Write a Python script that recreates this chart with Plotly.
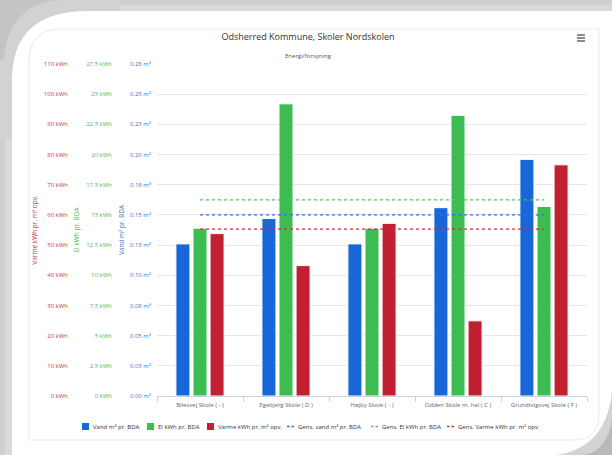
import plotly.graph_objects as go

# ---------------- data ----------------
schools = ["Bilesvej Skole ( - )", "Egebjerg Skole ( D )", "Højby Skole ( - )",
           "Odden Skole m. hal ( C )", "Grundtvigsvej Skole ( F )"]
vand = [0.126, 0.147, 0.126, 0.156, 0.196]      # m³ pr. BDA
el = [13.9, 24.2, 13.9, 23.25, 15.7]           # kWh pr. BDA
varme = [53.8, 43.2, 57.2, 24.9, 76.6]          # kWh pr. m² opv.
gens_vand = 0.150
gens_el = 16.25
gens_varme = 55.3

vand_tickvals = [0, 0.025, 0.05, 0.075, 0.1, 0.125, 0.15, 0.175, 0.2, 0.225, 0.25, 0.275]
vand_ticktext = ["0.00 m³", "0.03 m³", "0.05 m³", "0.08 m³", "0.10 m³", "0.13 m³",
                 "0.15 m³", "0.18 m³", "0.20 m³", "0.23 m³", "0.25 m³", "0.28 m³"]
el_tickvals = [0, 2.5, 5, 7.5, 10, 12.5, 15, 17.5, 20, 22.5, 25, 27.5]
el_ticktext = ["0 kWh", "2.5 kWh", "5 kWh", "7.5 kWh", "10 kWh", "12.5 kWh", "15 kWh",
               "17.5 kWh", "20 kWh", "22.5 kWh", "25 kWh", "27.5 kWh"]
varme_tickvals = [0, 10, 20, 30, 40, 50, 60, 70, 80, 90, 100, 110]
varme_ticktext = ["0 kWh", "10 kWh", "20 kWh", "30 kWh", "40 kWh", "50 kWh", "60 kWh",
                  "70 kWh", "80 kWh", "90 kWh", "100 kWh", "110 kWh"]

series_names = ["Vand m³ pr. BDA", "El kWh pr. BDA", "Varme kWh pr. m² opv.",
                "Gens. vand m³ pr. BDA", "Gens. El kWh pr. BDA", "Gens. Varme kWh pr. m² opv."]

# ---------------- styling ----------------
FIG_W, FIG_H = 612, 455
ML, MR, MT, MB = 20, 25, 64, 59
PW = FIG_W - ML - MR
PH = FIG_H - MT - MB
FONT = "Open Sans"

BLUE = "#1767d8"
GREEN = "#3dbd51"
RED = "#c21f30"
BLUE_T = "#3f72cc"
GREEN_T = "#4cba5a"
RED_T = "#c43a48"
BLUE_L = "#2f6fd6"
GREEN_L = "#56c265"
RED_L = "#c9303d"


def px(x):
    return (x - ML) / PW


def py(y):
    return 1 - (y - MT) / PH


def path(cmds):
    out = []
    for c in cmds:
        if isinstance(c, str):
            out.append(c)
        else:
            out.append(f"{px(c[0]):.5f},{py(c[1]):.5f}")
    return " ".join(out)


fig = go.Figure()

bar_w = 0.163
fig.add_trace(go.Bar(x=schools, y=vand, name=series_names[0], marker_color=BLUE,
                     marker_line=dict(color="white", width=1), width=bar_w, offset=-0.28,
                     yaxis="y"))
fig.add_trace(go.Bar(x=schools, y=el, name=series_names[1], marker_color=GREEN,
                     marker_line=dict(color="white", width=1), width=bar_w, offset=-0.0815,
                     yaxis="y2"))
fig.add_trace(go.Bar(x=schools, y=varme, name=series_names[2], marker_color=RED,
                     marker_line=dict(color="white", width=1), width=bar_w, offset=0.117,
                     yaxis="y3"))

ends = [schools[0], schools[-1]]
fig.add_trace(go.Scatter(x=ends, y=[gens_vand, gens_vand], mode="lines",
                         name=series_names[3],
                         line=dict(color=BLUE_L, width=1.3, dash="dot"), yaxis="y4"))
fig.add_trace(go.Scatter(x=ends, y=[gens_el, gens_el], mode="lines",
                         name=series_names[4],
                         line=dict(color=GREEN_L, width=1.3, dash="dot"), yaxis="y5"))
fig.add_trace(go.Scatter(x=ends, y=[gens_varme, gens_varme], mode="lines",
                         name=series_names[5],
                         line=dict(color=RED_L, width=1.3, dash="dot"), yaxis="y6"))

tickfont = dict(family=FONT, size=6)

fig.update_layout(
    width=FIG_W, height=FIG_H,
    margin=dict(l=ML, r=MR, t=MT, b=MB, autoexpand=False),
    paper_bgcolor="white", plot_bgcolor="rgba(0,0,0,0)",
    barmode="overlay",
    showlegend=False,
    font=dict(family=FONT, color="#333333"),
    title=dict(text="Odsherred Kommune, Skoler Nordskolen", x=308 / FIG_W, xanchor="center",
               y=1 - 37 / FIG_H, yanchor="middle",
               font=dict(family=FONT, size=9, color="#333333")),
    xaxis=dict(domain=[px(157), 1], type="category", showgrid=False, showline=True,
               linecolor="#c8d2e6", linewidth=1, ticks="outside", tickson="boundaries",
               ticklen=5, tickcolor="#c8d2e6", ticklabelstandoff=3,
               tickfont=dict(family=FONT, size=6, color="#666666"),
               range=[-0.5, 4.5]),
    yaxis=dict(range=[0, 0.275], tickvals=vand_tickvals, ticktext=vand_ticktext,
               showgrid=True, gridcolor="#e6e6e6", gridwidth=1, zeroline=False,
               showline=False, tickfont=dict(tickfont, color=BLUE_T),
               title=dict(text="Vand m³ pr. BDA", font=dict(family=FONT, size=6.5, color=BLUE_T),
                          standoff=4),
               ticklabelstandoff=5),
    yaxis2=dict(range=[0, 27.5], tickvals=el_tickvals, ticktext=el_ticktext,
                overlaying="y", anchor="free", position=px(112), side="left",
                showgrid=False, zeroline=False, showline=False,
                tickfont=dict(tickfont, color=GREEN_T),
                title=dict(text="El kWh pr. BDA", font=dict(family=FONT, size=6.5, color=GREEN_T),
                           standoff=4)),
    yaxis3=dict(range=[0, 110], tickvals=varme_tickvals, ticktext=varme_ticktext,
                overlaying="y", anchor="free", position=px(68), side="left",
                showgrid=False, zeroline=False, showline=False,
                tickfont=dict(tickfont, color=RED_T),
                title=dict(text="Varme kWh pr. m² opv.",
                           font=dict(family=FONT, size=6.5, color=RED_T), standoff=4)),
    yaxis4=dict(range=[0, 0.275], overlaying="y", visible=False),
    yaxis5=dict(range=[0, 27.5], overlaying="y", visible=False),
    yaxis6=dict(range=[0, 110], overlaying="y", visible=False),
)

# subtitle
fig.add_annotation(text="Energi/forsyning", x=px(308), y=py(50), xref="paper", yref="paper",
                   showarrow=False, font=dict(family=FONT, size=6, color="#555555"))

shapes = []

# context-menu icon (three bars)
for yy in (35, 38, 41):
    shapes.append(dict(type="line", xref="paper", yref="paper", x0=px(577), x1=px(585),
                       y0=py(yy), y1=py(yy), line=dict(color="#666666", width=1.5)))

# legend (drawn as real text next to symbols)
LEG_Y = 426.5
leg_sym_x = [82, 147, 207, 287, 371, 447]
leg_colors = [BLUE, GREEN, RED, BLUE_L, GREEN_L, RED_L]
for i, (name, sx, col) in enumerate(zip(series_names, leg_sym_x, leg_colors)):
    if i < 3:
        shapes.append(dict(type="rect", xref="paper", yref="paper", x0=px(sx), x1=px(sx + 7),
                           y0=py(LEG_Y + 3.5), y1=py(LEG_Y - 3.5), fillcolor=col,
                           line=dict(width=0)))
    else:
        shapes.append(dict(type="line", xref="paper", yref="paper", x0=px(sx), x1=px(sx + 7),
                           y0=py(LEG_Y), y1=py(LEG_Y),
                           line=dict(color=col, width=1.3, dash="2.5px,2px")))
    fig.add_annotation(text=name, x=px(sx + 9), y=py(LEG_Y), xref="paper", yref="paper",
                       xanchor="left", yanchor="middle", showarrow=False,
                       font=dict(family=FONT, size=6, color="#333333"))


# card background: surrounding grey areas and inner border
def rect(x0, y0, x1, y1, color):
    shapes.append(dict(type="rect", xref="paper", yref="paper", x0=px(x0), x1=px(x1),
                       y0=py(y1), y1=py(y0), fillcolor=color, line=dict(width=0),
                       layer="below"))

rect(0, 0, 612, 11, "#dadada")
rect(0, 0, 612, 5, "#cfcfcf")
rect(0, 0, 12, 455, "#dadada")
rect(0, 0, 5, 455, "#cfcfcf")
shapes.append(dict(type="path", xref="paper", yref="paper", layer="below",
                   path=path(["M", (0, 0), "L", (120, 0), "L", (120, 11), "L", (88, 11),
                              "Q", (12, 11), (12, 80), "L", (12, 140), "L", (0, 140), "Z"]),
                   fillcolor="#d2d2d2", line=dict(width=0)))
shapes.append(dict(type="path", xref="paper", yref="paper", layer="below",
                   path=path(["M", (0, 0), "L", (60, 0), "Q", (8, 4), (4, 60), "L", (0, 60), "Z"]),
                   fillcolor="#c4c4c4", line=dict(width=0)))
shapes.append(dict(type="path", xref="paper", yref="paper", layer="below",
                   path=path(["M", (612, 392), "Q", (606, 448), (556, 455), "L", (612, 455), "Z"]),
                   fillcolor="#d3d3d3", line=dict(width=0)))
shapes.append(dict(type="path", xref="paper", yref="paper", layer="below",
                   path=path(["M", (612, 418), "Q", (608, 452), (582, 455), "L", (612, 455), "Z"]),
                   fillcolor="#b9b9b9", line=dict(width=0)))
shapes.append(dict(type="path", xref="paper", yref="paper", layer="below",
                   path=path(["M", (29, 440), "L", (29, 62), "Q", (29, 29), (62, 29),
                              "L", (599, 29), "L", (599, 414), "Q", (599, 440), (573, 440), "Z"]),
                   fillcolor="rgba(0,0,0,0)", line=dict(color="#e9e9e9", width=1)))
fig.update_layout(shapes=shapes)

fig.write_html("out.html", config={"displayModeBar": False},
               post_script="document.body.style.margin='0';document.body.style.overflow='hidden';")
